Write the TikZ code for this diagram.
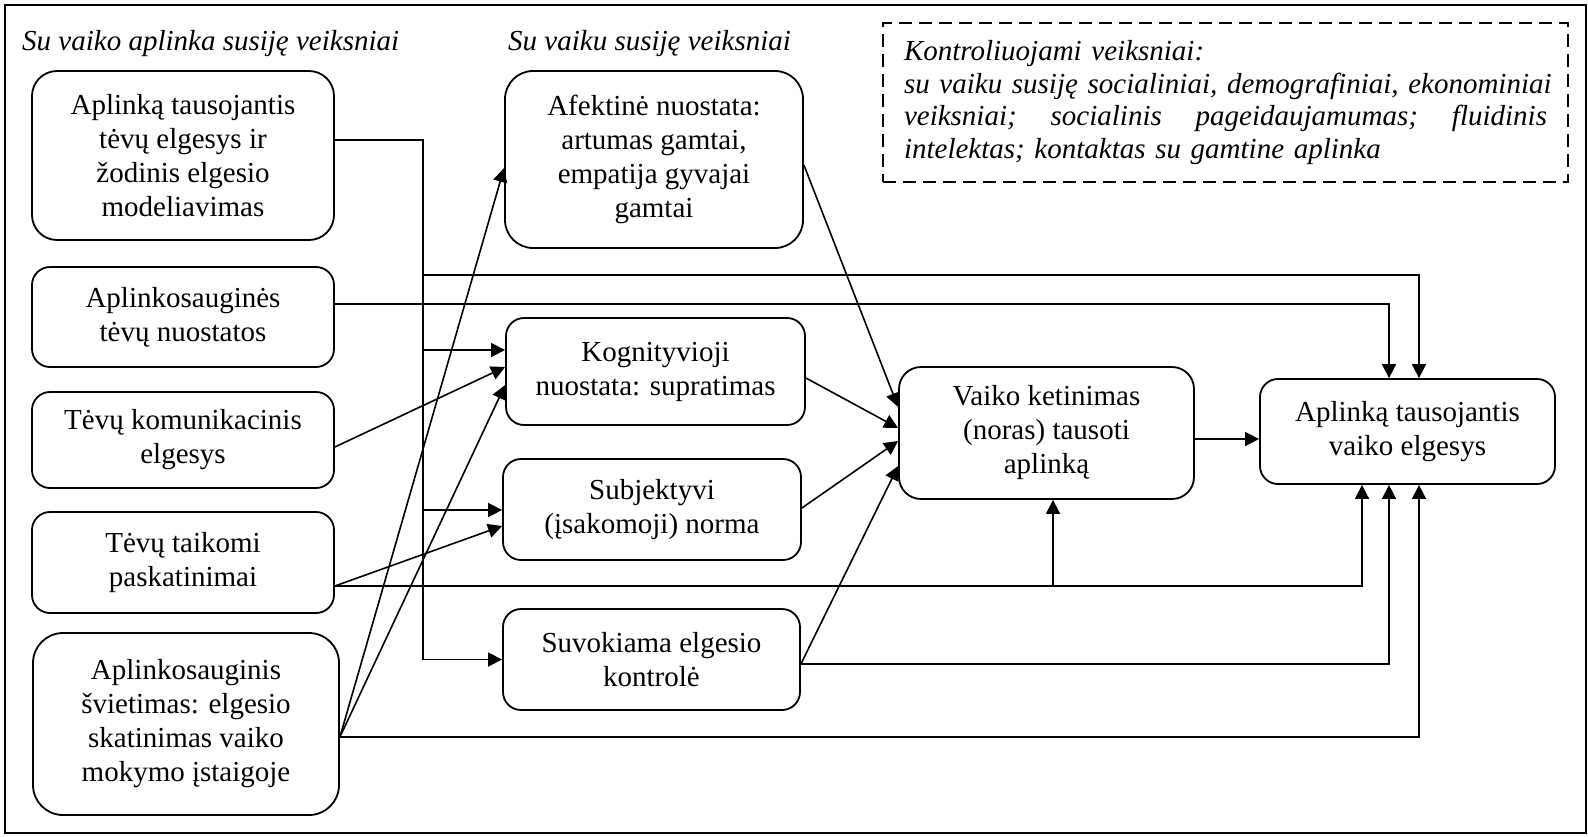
\documentclass[tikz,border=0pt]{standalone}
\usepackage{fontspec}
\setmainfont{Liberation Serif}
\usetikzlibrary{arrows.meta}
\begin{document}
\begin{tikzpicture}[x=1pt,y=-1pt,
  box/.style={draw, line width=1.8pt, rounded corners=18pt, align=center, inner sep=0pt, font=\fontsize{29}{34}\selectfont},
  conn/.style={line width=1.6pt},
  arr/.style={conn, -{Triangle[length=14pt,width=14pt]}},
  ttl/.style={font=\fontsize{29}{34}\selectfont\itshape, anchor=base west, inner sep=0pt}]
\useasboundingbox (0,0) rectangle (1588,836);
\draw[line width=2.6pt] (5,5) rectangle (1586,833);

% titles
\node[ttl] (t1) at (22,50) {Su vaiko aplinka susiję veiksniai};
\node[ttl] (t2) at (508,50) {Su vaiku susiję veiksniai};

% controlled factors
\node[draw, dash pattern=on 13pt off 7pt, line width=1.8pt, text width=643pt, align=left,
      inner xsep=21pt, inner ysep=0pt, minimum height=159pt,
      font=\fontsize{29}{32.5}\selectfont\itshape] (ctrl) at (1225.5,102.5)
  {Kontroliuojami veiksniai:\\
   \leavevmode\hbox to 643pt{su\hfill{} vaiku\hfill{} susiję\hfill{} socialiniai,\hfill{} demografiniai,\hfill{} ekonominiai}\\
   \leavevmode\hbox to 643pt{veiksniai;\hfill{} socialinis\hfill{} pageidaujamumas;\hfill{} fluidinis}\\
   intelektas; kontaktas su gamtine aplinka};

% left boxes
\node[box, rounded corners=25pt, minimum width=302pt, minimum height=169pt] (A1) at (183,155.5)
  {Aplinką tausojantis\\tėvų elgesys ir\\žodinis elgesio\\modeliavimas};
\node[box, minimum width=302pt, minimum height=100pt] (A2) at (183,317)
  {Aplinkosauginės\\tėvų nuostatos};
\node[box, minimum width=302pt, minimum height=96pt] (A3) at (183,440)
  {Tėvų komunikacinis\\elgesys};
\node[box, minimum width=302pt, minimum height=101pt] (A4) at (183,562.5)
  {Tėvų taikomi\\paskatinimai};
\node[box, rounded corners=30pt, minimum width=306pt, minimum height=182pt] (A5) at (186,724)
  {Aplinkosauginis\\švietimas: elgesio\\skatinimas vaiko\\mokymo įstaigoje};

% middle boxes
\node[box, rounded corners=28pt, minimum width=298pt, minimum height=177pt] (B1) at (654,159.5)
  {Afektinė nuostata:\\artumas gamtai,\\empatija gyvajai\\gamtai};
\node[box, minimum width=299pt, minimum height=107pt] (B2) at (655.5,371.5)
  {Kognityvioji\\nuostata: supratimas};
\node[box, minimum width=298pt, minimum height=101pt] (B3) at (652,509.5)
  {Subjektyvi\\(įsakomoji) norma};
\node[box, minimum width=297pt, minimum height=101pt] (B4) at (651.5,659.5)
  {Suvokiama elgesio\\kontrolė};

% right boxes
\node[box, rounded corners=22pt, minimum width=295pt, minimum height=132pt] (C) at (1046.5,433)
  {Vaiko ketinimas\\(noras) tausoti\\aplinką};
\node[box, minimum width=295pt, minimum height=105pt] (D) at (1407.5,431.5)
  {Aplinką tausojantis\\vaiko elgesys};

% junction coordinates
\coordinate (tTop) at (423,140);
\coordinate (tBot) at (423,659.5);
\coordinate (j1) at (423,275);
\coordinate (j2) at (423,350);
\coordinate (j3) at (423,510);
\coordinate (a5) at ([yshift=-13pt]A5.east);
\coordinate (a4) at ([yshift=-23.5pt]A4.east);
\coordinate (b4) at ([yshift=-4.5pt]B4.east);
\coordinate (k) at (1053,586);

% trunk from A1
\draw[arr] ([yshift=15.5pt]A1.east) -- (tTop) -- (tBot) -- (B4.west);
\draw[arr] (j1) -| ([xshift=11.5pt]D.north);
\draw[arr] (j2) -- (B2.west |- j2);
\draw[arr] (j3) -- (B3.west |- j3);

% A2
\draw[arr] ([yshift=13pt]A2.east) -| ([xshift=-18.5pt]D.north);
% A3
\draw[arr] ([yshift=-7pt]A3.east) -- ([yshift=4.5pt]B2.west);
% A4
\draw[arr] (a4) -- ([yshift=-16.5pt]B3.west);
\draw[arr] (a4) -| ([xshift=-45.5pt]D.south);
\draw[arr] (k) -- (k |- C.south);
% A5
\draw[arr] (a5) -- ([yshift=-8.5pt]B1.west);
\draw[arr] (a5) -- ([yshift=-13.5pt]B2.west);
\draw[arr] (a5) -| ([xshift=11.5pt]D.south);
% B4
\draw[arr] (b4) -| ([xshift=-18.5pt]D.south);

% into C
\draw[arr] ([yshift=-5.5pt]B1.east) -- ([yshift=26pt]C.west);
\draw[arr] ([yshift=-6.5pt]B2.east) -- ([yshift=5pt]C.west);
\draw[arr] ([yshift=1.5pt]B3.east) -- ([yshift=-8pt]C.west);
\draw[arr] (b4) -- ([yshift=-33pt]C.west);

% C to D
\draw[arr] ([yshift=-6pt]C.east) -- ([yshift=-6pt]C.east -| D.west);
\end{tikzpicture}
\end{document}
